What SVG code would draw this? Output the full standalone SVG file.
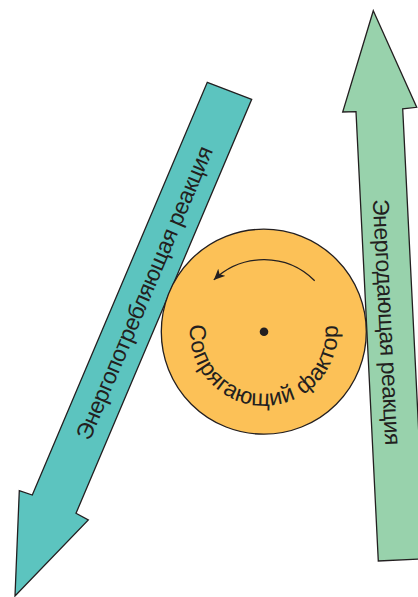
<svg xmlns="http://www.w3.org/2000/svg" xmlns:xlink="http://www.w3.org/1999/xlink" width="418" height="597" viewBox="0 0 418 597">
  <style>
    .shape { stroke: #231f20; stroke-width: 1.3; stroke-linejoin: miter; }
    .teal { fill: #5cc4bf; }
    .green { fill: #98d2ac; }
    .orange { fill: #fcc157; }
    .lbl { font-family: "Liberation Sans", Arial, sans-serif; font-size: 23px; letter-spacing: -0.5px; fill: #231f20; }
  </style>
  <defs>
    <marker id="head" markerUnits="userSpaceOnUse" markerWidth="14" markerHeight="12" refX="11" refY="5" orient="auto">
      <path d="M0,0 L11,5 L0,10 L3,5 Z" fill="#231f20"/>
    </marker>
    <path id="ringPath" d="M199.7,294.7 A74,74 0 1 0 327.9,294.7"/>
  </defs>
  <rect width="418" height="597" fill="#ffffff"/>

  <g id="energy-consuming-reaction">
    <polygon class="shape teal" points="207.3,82.3 251.7,99.3 76,513.3 88.3,520 15,596 19.3,490.7 32.3,495"/>
    <text class="lbl" transform="translate(144,293) rotate(-67)" text-anchor="middle" dominant-baseline="central">Энергопотребляющая реакция</text>
  </g>

  <g id="energy-releasing-reaction">
    <polygon class="shape green" points="373.3,10.7 416.7,107.3 402.7,108.8 425,558.7 378.3,561 356,111.7 342.7,112"/>
    <text class="lbl" transform="translate(387,322) rotate(87.1)" text-anchor="middle" dominant-baseline="central">Энергодающая реакция</text>
  </g>

  <g id="coupling-factor">
    <circle class="shape orange" cx="263.8" cy="331.7" r="102.5"/>
    <circle cx="264" cy="331.7" r="4.3" fill="#231f20"/>
    <text class="lbl" style="letter-spacing:0.7px"><textPath href="#ringPath" xlink:href="#ringPath" startOffset="50%" text-anchor="middle">Сопрягающий фактор</textPath></text>
  </g>

  <g id="connectors">
    <path d="M314.7,280.8 A72,72 0 0 0 213.8,279.9" fill="none" stroke="#231f20" stroke-width="1.3" marker-end="url(#head)"/>
  </g>
</svg>
